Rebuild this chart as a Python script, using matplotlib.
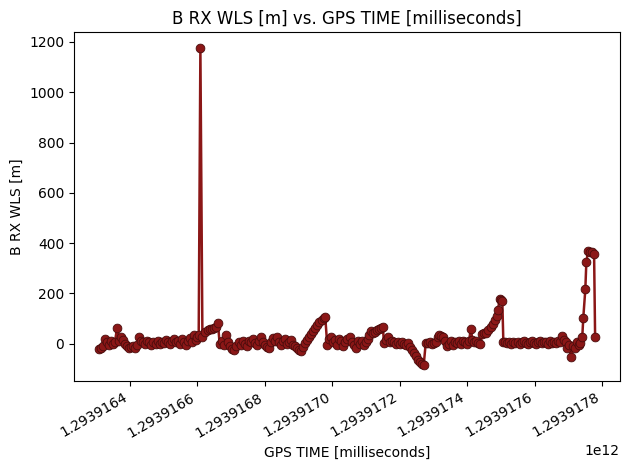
import matplotlib
matplotlib.use('Agg')
import matplotlib.pyplot as plt
import numpy as np

# GPS time stored as a base (ms) plus offsets in seconds
base_ms = 1293916300000
t_sec = [
    8, 14, 20, 26, 32, 38, 44, 50, 56, 62, 68, 74, 80, 86, 92, 98, 104, 110, 116, 122,
    128, 134, 140, 146, 152, 158, 164, 170, 176, 182, 188, 194, 200, 206, 212, 218, 224, 230, 236, 242,
    248, 254, 260, 266, 272, 278, 284, 290, 296, 300, 304, 309, 315, 323, 331, 337, 343, 349, 355, 361,
    366, 372, 378, 386, 392, 398, 404, 410, 416, 422, 428, 434, 440, 446, 452, 458, 464, 470, 476, 482,
    488, 494, 500, 506, 512, 518, 524, 530, 536, 542, 548, 554, 560, 566, 572, 578, 584, 590, 596, 602,
    608, 614, 620, 626, 632, 638, 644, 650, 656, 662, 668, 674, 679, 685, 691, 697, 703, 709, 715, 721,
    727, 733, 739, 745, 751, 757, 763, 769, 775, 781, 787, 793, 799, 805, 809, 815, 821, 827, 833, 839,
    845, 850, 853, 859, 865, 871, 877, 883, 889, 895, 901, 907, 913, 919, 925, 931, 937, 943, 949, 955,
    961, 967, 971, 977, 983, 989, 995, 1001, 1007, 1013, 1017, 1021, 1027, 1033, 1039, 1045, 1051, 1057, 1063, 1069,
    1075, 1081, 1087, 1093, 1099, 1105, 1111, 1115, 1121, 1127, 1133, 1139, 1145, 1151, 1157, 1163, 1169, 1175, 1181, 1187,
    1191, 1196, 1201, 1204, 1207, 1213, 1219, 1225, 1231, 1237, 1243, 1249, 1255, 1261, 1267, 1273, 1279, 1285, 1291, 1297,
    1303, 1309, 1315, 1321, 1327, 1333, 1339, 1345, 1351, 1357, 1363, 1369, 1375, 1382, 1388, 1393, 1396, 1402, 1408, 1414,
    1420, 1426, 1431, 1435, 1441, 1444, 1450, 1453, 1458, 1464, 1470, 1476, 1479,
]
b_rx_wls = [
    -20, -18, -10, 20, 5, -5, 10, 0, 8, 64, 10, 25, 15, 0, -10, -16, -12, -8, -15, -5,
    28, 10, 5, 0, 12, 8, -5, 5, 0, 10, -3, 8, 2, 15, 5, -2, 10, 20, 5, 12,
    0, 18, 8, -5, 10, 22, 5, 36, 15, 28, 35, 1175, 25, 45, 56, 60, 58, 62, 66, 84,
    0, 10, -5, 36, 5, -10, -22, -25, -10, 5, -5, 10, 0, -8, 12, 5, 18, 2, -5, 10,
    25, 8, -5, -14, -16, 5, 22, 10, 25, 5, -5, 10, 20, 0, 8, 15, -5, -10, -18, -25,
    -30, -12, 2, 15, 28, 40, 52, 62, 75, 85, 95, 102, 108, -4, 20, 25, 5, 15, -5, 20,
    12, -10, 5, 18, 25, 8, -5, -15, 10, 0, 12, -5, 5, 20, 35, 50, 42, 48, 55, 60,
    64, 68, 4, 15, 25, 8, 10, 5, 0, 8, -2, 5, 0, -5, 2, -12, -25, -38, -50, -64,
    -72, -80, -84, 4, 2, 5, 0, 3, 8, 25, 36, 30, 28, 10, -10, 0, 10, -5, 8, 2,
    12, -3, 10, 5, -2, 10, 60, 15, 5, 12, 2, 0, 40, 42, 44, 55, 68, 80, 95, 110,
    136, 176, 172, 168, 8, 5, 2, 8, 0, 5, 3, 8, -2, 5, 10, 2, 0, 8, 12, 3,
    -3, 5, 10, 2, 8, 5, 0, 10, 4, 8, 2, 12, 5, 32, 15, 5, -16, -5, -52, -10,
    -16, 5, -5, 4, 28, 104, 216, 324, 368, 366, 364, 356, 28,
]

gps_time = base_ms + np.array(t_sec) * 1000

fig, ax = plt.subplots(figsize=(6.3, 4.7), dpi=100)
ax.plot(gps_time, b_rx_wls, color='#8b1717', linewidth=1.8,
        marker='o', markersize=6.3, markerfacecolor='#8b1717',
        markeredgecolor='#4a0c0c', markeredgewidth=0.6)

ax.ticklabel_format(axis='x', useOffset=False)
ax.set_title('B RX WLS [m] vs. GPS TIME [milliseconds]')
ax.set_xlabel('GPS TIME [milliseconds]')
ax.set_ylabel('B RX WLS [m]')
fig.autofmt_xdate()
fig.subplots_adjust(left=0.1175, right=0.984, top=0.931, bottom=0.19)
fig.savefig('out.png')
